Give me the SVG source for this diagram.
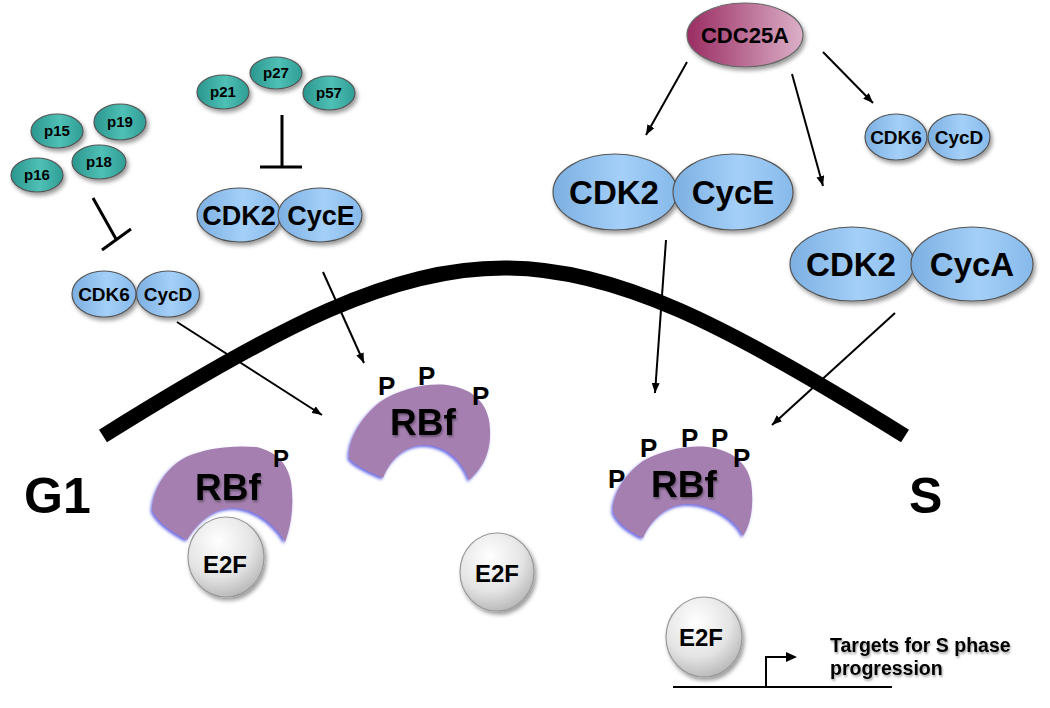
<svg xmlns="http://www.w3.org/2000/svg" width="1050" height="708" viewBox="0 0 1050 708">
<defs>
<linearGradient id="gBlue" x1="0" y1="0" x2="1" y2="0">
<stop offset="0" stop-color="#7cafe2"/><stop offset="0.55" stop-color="#a4d0f8"/><stop offset="1" stop-color="#86b9ea"/>
</linearGradient>
<linearGradient id="gTeal" x1="0" y1="0" x2="1" y2="0">
<stop offset="0" stop-color="#2a968e"/><stop offset="0.55" stop-color="#4fc0b5"/><stop offset="1" stop-color="#2e9d95"/>
</linearGradient>
<linearGradient id="gCdc" x1="0" y1="0" x2="1" y2="0">
<stop offset="0" stop-color="#9a2c62"/><stop offset="1" stop-color="#dcb0c8"/>
</linearGradient>
<radialGradient id="gE2F" cx="0.4" cy="0.3" r="0.75">
<stop offset="0" stop-color="#ffffff"/><stop offset="0.6" stop-color="#e4e4e4"/><stop offset="1" stop-color="#b4b4b4"/>
</radialGradient>
<filter id="sh" x="-20%" y="-20%" width="150%" height="160%">
<feDropShadow dx="2" dy="3" stdDeviation="2" flood-color="#000" flood-opacity="0.4"/>
</filter>
<filter id="rim" x="-20%" y="-20%" width="140%" height="150%">
<feDropShadow dx="-1.5" dy="2" stdDeviation="1.5" flood-color="#4646e0" flood-opacity="0.8"/>
</filter>
<filter id="tsh" x="-10%" y="-20%" width="130%" height="160%">
<feDropShadow dx="1" dy="2" stdDeviation="1.2" flood-color="#000" flood-opacity="0.35"/>
</filter>
<marker id="arr" viewBox="0 0 10 8" refX="10" refY="4" markerWidth="10" markerHeight="8" markerUnits="userSpaceOnUse" orient="auto">
<path d="M0,0 L10,4 L0,8 Z" fill="#000"/>
</marker>
</defs>
<style>
text{font-family:"Liberation Sans",Arial,sans-serif;font-weight:bold;fill:#000;text-anchor:middle}
.blue{fill:url(#gBlue);stroke:#555;stroke-width:1.2}
.teal{fill:url(#gTeal);stroke:#555;stroke-width:1.2}
.e2f{fill:url(#gE2F);stroke:#999;stroke-width:1.2}
.rb{fill:#a47faf;filter:url(#rim)}
.ln{stroke:#000;stroke-width:2;fill:none}
.inh{stroke:#000;stroke-width:3;fill:none}
.p{font-size:26px;text-anchor:start}
.rbt{font-size:37px;filter:url(#tsh)}
.et{font-size:24px}
</style>
<rect width="1050" height="708" fill="#fff"/>

<!-- phase arc -->
<path d="M103,436 C461,212 547,212 905,436" fill="none" stroke="#000" stroke-width="15"/>

<g id="p-inhib-left" filter="url(#sh)">
<ellipse class="teal" cx="57" cy="131" rx="26" ry="17"/>
<ellipse class="teal" cx="120" cy="122" rx="26" ry="18"/>
<ellipse class="teal" cx="37" cy="175" rx="26" ry="17"/>
<ellipse class="teal" cx="99" cy="162" rx="27" ry="17"/>
</g>
<g id="p-inhib-left-labels">
<text x="57" y="136" style="font-size:15px">p15</text>
<text x="120" y="127" style="font-size:15px">p19</text>
<text x="37" y="180" style="font-size:15px">p16</text>
<text x="99" y="167" style="font-size:15px">p18</text>
</g>

<g id="p-inhib-mid">
<g filter="url(#sh)">
<ellipse class="teal" cx="223" cy="92" rx="26" ry="17"/>
<ellipse class="teal" cx="276" cy="73" rx="26" ry="16"/>
<ellipse class="teal" cx="329" cy="93" rx="26" ry="17"/>
</g>
<text x="223" y="97" style="font-size:15px">p21</text>
<text x="276" y="78" style="font-size:15px">p27</text>
<text x="329" y="98" style="font-size:15px">p57</text>
</g>

<g id="cdc25a">
<ellipse cx="745" cy="35" rx="58" ry="32" fill="url(#gCdc)" stroke="#666" stroke-width="1.2" filter="url(#sh)"/>
<text x="745" y="43" style="font-size:22px">CDC25A</text>
</g>

<g id="cdk6-cycd-left">
<g filter="url(#sh)">
<ellipse class="blue" cx="104" cy="294" rx="32" ry="23"/>
<ellipse class="blue" cx="168" cy="294" rx="31.5" ry="23"/>
</g>
<text x="104" y="301" style="font-size:19px">CDK6</text>
<text x="168" y="301" style="font-size:19px">CycD</text>
</g>

<g id="cdk2-cyce-left">
<g filter="url(#sh)">
<ellipse class="blue" cx="239" cy="215" rx="42" ry="27"/>
<ellipse class="blue" cx="320" cy="215" rx="42" ry="27"/>
</g>
<text x="239" y="225" style="font-size:27px">CDK2</text>
<text x="321" y="225" style="font-size:27px">CycE</text>
</g>

<g id="cdk6-cycd-right">
<g filter="url(#sh)">
<ellipse class="blue" cx="896" cy="137" rx="31" ry="23"/>
<ellipse class="blue" cx="959" cy="137" rx="31" ry="23"/>
</g>
<text x="896" y="144" style="font-size:19px">CDK6</text>
<text x="959" y="144" style="font-size:19px">CycD</text>
</g>

<g id="cdk2-cyce-right">
<g filter="url(#sh)">
<ellipse class="blue" cx="615" cy="192" rx="62" ry="38"/>
<ellipse class="blue" cx="733" cy="192" rx="60" ry="38"/>
</g>
<text x="614" y="204" style="font-size:33px">CDK2</text>
<text x="733" y="204" style="font-size:33px">CycE</text>
</g>

<g id="cdk2-cyca">
<g filter="url(#sh)">
<ellipse class="blue" cx="852" cy="264" rx="62" ry="37"/>
<ellipse class="blue" cx="972" cy="264" rx="61" ry="37"/>
</g>
<text x="851" y="276" style="font-size:33px">CDK2</text>
<text x="972" y="276" style="font-size:33px">CycA</text>
</g>

<g id="rbf-left">
<path class="rb" d="M187,540 C172,532 157,522 152,510 C153,488 166,468 186,457 C206,448 232,445 256,447 C276,451 288,464 291,482 C294,502 292,524 285,542 C276,526 258,510 235,508 C214,507 198,522 187,540 Z"/>
<text class="rbt" x="228" y="500">RBf</text>
<text class="p" x="273" y="467" style="font-size:24px">P</text>
</g>
<g id="e2f-left">
<ellipse class="e2f" cx="226" cy="557" rx="38" ry="40" filter="url(#sh)"/>
<text class="et" x="225" y="573">E2F</text>
</g>

<g id="rbf-mid">
<path class="rb" d="M383,478 C370,472 355,466 349,458 C348,440 360,418 380,402 C400,389 425,383 447,385 C470,388 485,400 489,420 C492,440 490,462 469,480 C463,462 447,445 424,445 C405,445 390,460 383,478 Z"/>
<text class="rbt" x="423" y="435">RBf</text>
<text class="p" x="378" y="395">P</text>
<text class="p" x="418" y="385">P</text>
<text class="p" x="472" y="405">P</text>
</g>
<g id="e2f-mid">
<ellipse class="e2f" cx="497" cy="572" rx="37" ry="39" filter="url(#sh)"/>
<text class="et" x="497" y="582">E2F</text>
</g>

<g id="rbf-right">
<path class="rb" d="M643,538 C630,532 618,524 613,512 C612,494 625,474 643,461 C663,450 687,445 708,447 C731,450 747,462 751,482 C754,502 752,522 743,536 C736,520 712,504 688,504 C667,504 651,520 643,538 Z"/>
<text class="rbt" x="684" y="497">RBf</text>
<text class="p" x="608" y="488">P</text>
<text class="p" x="640" y="457">P</text>
<text class="p" x="681" y="447">P</text>
<text class="p" x="711" y="447">P</text>
<text class="p" x="733" y="467">P</text>
</g>
<g id="e2f-right">
<ellipse class="e2f" cx="704" cy="637" rx="38" ry="40" filter="url(#sh)"/>
<text class="et" x="701" y="646">E2F</text>
</g>

<g id="targets">
<path class="ln" d="M673,687 H892 M766,687 V657 H788"/>
<path d="M786,652 L797,657 L786,662 Z" fill="#000"/>
<g filter="url(#tsh)">
<text x="830" y="652" style="font-size:19.5px;text-anchor:start">Targets for S phase</text>
<text x="830" y="675" style="font-size:19.5px;text-anchor:start">progression</text>
</g>
</g>

<g id="phase-labels">
<text x="24" y="513" style="font-size:50px;text-anchor:start">G1</text>
<text x="909" y="513" style="font-size:50px;text-anchor:start">S</text>
</g>

<g id="connectors">
<path class="inh" d="M93,198 L116,239 M102,250 L131,229"/>
<path class="inh" d="M282,115 V167 M260,167 H302"/>
<path class="ln" d="M687,62 L646,135" marker-end="url(#arr)"/>
<path class="ln" d="M792,74 L823,186" marker-end="url(#arr)"/>
<path class="ln" d="M823,52 L873,103" marker-end="url(#arr)"/>
<path class="ln" d="M177,322 L322,415" marker-end="url(#arr)"/>
<path class="ln" d="M323,272 L364,363" marker-end="url(#arr)"/>
<path class="ln" d="M666,240 L655,393" marker-end="url(#arr)"/>
<path class="ln" d="M895,313 L772,425" marker-end="url(#arr)"/>
</g>
</svg>
